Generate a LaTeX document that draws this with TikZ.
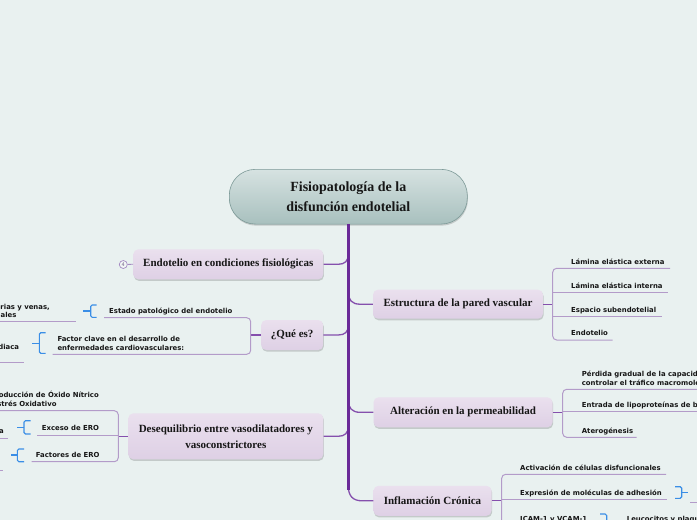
\documentclass[tikz,border=0pt]{standalone}
\usepackage{fontspec}
\setmainfont{Liberation Serif}
\newfontfamily\subfont{DejaVu Sans}
\usetikzlibrary{shadows}
\definecolor{bgc}{HTML}{E9F1F0}
\definecolor{trunkc}{HTML}{6A2A98}
\definecolor{branchc}{HTML}{8550AD}
\definecolor{nodetop}{HTML}{EAE0EE}
\definecolor{nodebot}{HTML}{DED0E5}
\definecolor{sublinec}{HTML}{B39BC9}
\definecolor{bracketc}{HTML}{3A8EE6}
\definecolor{centtop}{HTML}{D6E2E1}
\definecolor{centbot}{HTML}{A8C0BE}
\definecolor{centdraw}{HTML}{7D9A98}
\definecolor{circc}{HTML}{A48AC2}
\definecolor{txtc}{HTML}{161616}
\tikzset{
  topic/.style={rounded corners=5pt, top color=nodetop, bottom color=nodebot, inner sep=0pt,
    font=\bfseries\fontsize{11}{16}\selectfont, text=txtc, align=center,
    drop shadow={shadow xshift=0.6pt, shadow yshift=-1.6pt, opacity=0.16, fill=black}},
  centre/.style={rounded corners=26pt, top color=centtop, bottom color=centbot, draw=centdraw,
    line width=0.6pt, inner sep=0pt, font=\bfseries\fontsize{14}{20}\selectfont, text=txtc, align=center,
    drop shadow={shadow xshift=0.6pt, shadow yshift=-1.6pt, opacity=0.16, fill=black}},
  sub/.style={font=\subfont\bfseries\fontsize{6.9}{8.9}\selectfont, inner sep=0pt, text depth=0pt,
    align=left, text=txtc},
  subl/.style={draw=sublinec, line width=1pt},
  branch/.style={draw=branchc, line width=1.3pt},
  trunk/.style={draw=trunkc, line width=3pt},
  brk/.style={draw=bracketc, line width=1.1pt, rounded corners=1.5pt},
  stub/.style={draw=bracketc, line width=1.4pt},
}
\begin{document}
\begin{tikzpicture}[x=1pt,y=-1pt]
\fill[bgc] (0,0) rectangle (697,520);
\useasboundingbox (0,0) rectangle (697,520);

% trunk
\node[centre, minimum width=238pt, minimum height=54.7pt] (cent) at (348.3,196.7) {Fisiopatología de la\\disfunción endotelial};
\coordinate (tend) at (348.3,490);
\coordinate (t1) at (348.3,254);
\coordinate (t2) at (348.3,325);
\coordinate (t3) at (348.3,426);
\coordinate (t4) at (348.3,292);
\coordinate (t5) at (348.3,400);
\coordinate (t6) at (348.3,486);

% main topics
\node[topic, minimum width=190pt, minimum height=30pt] (endo) at (228.3,264.3) {Endotelio en condiciones fisiológicas};
\node[topic, minimum width=62pt, minimum height=30pt] (que) at (292.2,335) {¿Qué es?};
\node[topic, minimum width=195pt, minimum height=46pt] (deseq) at (225.8,436.3) {Desequilibrio entre vasodilatadores y\\vasoconstrictores};
\node[topic, minimum width=170pt, minimum height=29pt] (estr) at (458,304.2) {Estructura de la pared vascular};
\node[topic, minimum width=179pt, minimum height=30pt] (alter) at (463,412.3) {Alteración en la permeabilidad};
\node[topic, minimum width=118pt, minimum height=30pt] (infl) at (432.5,500.8) {Inflamación Crónica};

% branches
\draw[branch] (endo.east) -- (338,264.3) .. controls (345,264.3) and (348.3,261) .. (t1);
\draw[branch] (que.east) -- (338,335) .. controls (345,335) and (348.3,332) .. (t2);
\draw[branch] (deseq.east) -- (338,436.3) .. controls (345,436.3) and (348.3,433) .. (t3);
\draw[branch] (t4) .. controls (348.3,300) and (352,304.2) .. (360,304.2) -- (estr.west);
\draw[branch] (t5) .. controls (348.3,408) and (352,412.3) .. (360,412.3) -- (alter.west);
\draw[branch] (t6) .. controls (348.3,496) and (353,500.8) .. (362,500.8) -- (infl.west);
\draw[trunk] (cent.south) -- (tend);

% collapsed marker
\node[circle, draw=circc, fill=bgc!60!white, line width=0.7pt, minimum size=8pt, inner sep=0pt,
  font=\subfont\fontsize{5}{5}\selectfont, text=circc!70!black] (cnt) at (123.3,264.5) {4};
\draw[draw=circc, line width=0.8pt] (cnt) -- (endo.west);

% ---- Estructura
\coordinate (ev) at (552.7,304.2);
\draw[branch] (estr.east) -- (ev);
\draw[subl, rounded corners=4pt] (670,268.3) -- (552.7,268.3) -- (552.7,340) -- (612.7,340);
\draw[subl] (552.7,292.3) -- (668,292.3);
\draw[subl] (552.7,316.3) -- (661.7,316.3);
\node[sub, anchor=south west] (e1) at (571,264.3) {Lámina elástica externa};
\node[sub, anchor=south west] (e2) at (571,288.3) {Lámina elástica interna};
\node[sub, anchor=south west] (e3) at (571,312.3) {Espacio subendotelial};
\node[sub, anchor=south west] (e4) at (571,336) {Endotelio};

% ---- Alteracion
\coordinate (av) at (562.7,412.3);
\draw[branch] (alter.east) -- (av);
\draw[subl, rounded corners=4pt] (705,389.3) -- (562.7,389.3) -- (562.7,437.3) -- (636.7,437.3);
\draw[subl] (562.7,411.7) -- (705,411.7);
\node[sub, anchor=south west] (a1) at (581.7,385.3) {Pérdida gradual de la capacidad de\\controlar el tráfico macromolecular};
\node[sub, anchor=south west] (a2) at (581.7,407.7) {Entrada de lipoproteínas de baja densidad};
\node[sub, anchor=south west] (a3) at (581.7,433.3) {Aterogénesis};

% ---- Inflamacion
\coordinate (iv) at (501.7,500.8);
\draw[branch] (infl.east) -- (iv);
\draw[subl, rounded corners=4pt] (666,474.3) -- (501.7,474.3) -- (501.7,540);
\draw[subl] (501.7,499.5) -- (666.7,499.5);
\node[sub, anchor=south west] (i1) at (520,470.3) {Activación de células disfuncionales};
\node[sub, anchor=south west] (i2) at (520,495.5) {Expresión de moléculas de adhesión};
\node[sub, anchor=south west] (i3) at (520,522) {ICAM-1 y VCAM-1};
\draw[brk] (675,486.7) -- (681.7,486.7) -- (681.7,498.3) -- (675,498.3);
\draw[stub] (681.7,492.5) -- (688,492.5);
\draw[subl] (690,502.7) -- (705,502.7);
\draw[brk] (600,514) -- (606.7,514) -- (606.7,540);
\node[sub, anchor=south west] (i4) at (626.7,522) {Leucocitos y plaquetas};

% ---- Que es
\coordinate (qv) at (250.7,335);
\draw[branch] (que.west) -- (qv);
\draw[subl, rounded corners=4pt] (104,317.7) -- (250.7,317.7) -- (250.7,354.3) -- (52.7,354.3);
\node[sub, anchor=south west] (q1) at (109,313.5) {Estado patológico del endotelio};
\node[sub, anchor=south west] (q2) at (57.3,350.3) {Factor clave en el desarrollo de\\enfermedades cardiovasculares:};
\draw[brk] (96.7,305) -- (90.7,305) -- (90.7,317.3) -- (96.7,317.3);
\draw[stub] (90.7,311) -- (83.3,311);
\node[sub, anchor=south east] (q1a) at (50,309.2) {arterias y venas,};
\node[sub, anchor=south east] (q1b) at (16.7,317.5) {ales};
\draw[subl] (-5,321.7) -- (76,321.7);
\draw[brk] (45.7,332.7) -- (39.3,332.7) -- (39.3,353.3) -- (45.7,353.3);
\draw[stub] (39.3,343.3) -- (31.7,343.3);
\node[sub, anchor=south east] (q2a) at (19.3,349.5) {cardiaca};
\draw[subl] (-5,362.3) -- (24,362.3);

% ---- Desequilibrio
\coordinate (dv) at (118.3,436.3);
\draw[branch] (deseq.west) -- (dv);
\draw[subl, rounded corners=4pt] (-5,410.7) -- (118.3,410.7) -- (118.3,461.7) -- (31.7,461.7);
\draw[subl] (118.3,435) -- (36.7,435);
\node[sub, anchor=south east] (d1a) at (99,397.5) {Producción de Óxido Nítrico};
\node[sub, anchor=south east] (d1b) at (56.7,406.7) {Estrés Oxidativo};
\node[sub, anchor=south west] (d2) at (41.7,430.8) {Exceso de ERO};
\node[sub, anchor=south west] (d3) at (35.7,457.6) {Factores de ERO};
\draw[brk] (30.7,420.7) -- (24,420.7) -- (24,434) -- (30.7,434);
\draw[stub] (24,427.3) -- (16.7,427.3);
\node[sub, anchor=south east] (d2a) at (4,433.3) {a};
\draw[subl] (-5,438.3) -- (8.3,438.3);
\draw[brk] (24,449) -- (17.3,449) -- (17.3,461.7) -- (24,461.7);
\draw[stub] (17.3,455) -- (10.7,455);
\draw[subl] (-5,470) -- (2.7,470);
\end{tikzpicture}
\end{document}
